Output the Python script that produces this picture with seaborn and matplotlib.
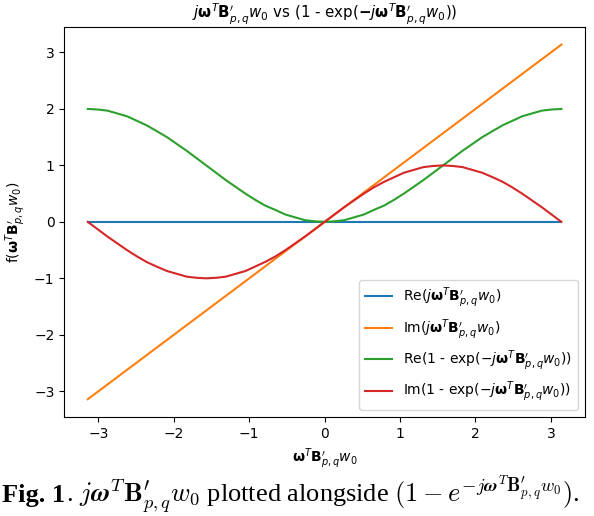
import seaborn as sns
import matplotlib.pyplot as plt

# valores (eixo x de -pi a pi)
x_vals = [-3.14, -3.01, -2.88, -2.75, -2.62, -2.49, -2.36, -2.23, -2.09, -1.96, -1.83, -1.70, -1.57,
          -1.44, -1.31, -1.18, -1.05, -0.92, -0.79, -0.65, -0.52, -0.39, -0.26, -0.13, 0.0,
          0.13, 0.26, 0.39, 0.52, 0.65, 0.79, 0.92, 1.05, 1.18, 1.31, 1.44, 1.57,
          1.70, 1.83, 1.96, 2.09, 2.23, 2.36, 2.49, 2.62, 2.75, 2.88, 3.01, 3.14]
re_lin = [0.0] * 49
im_lin = [-3.14, -3.01, -2.88, -2.75, -2.62, -2.49, -2.36, -2.23, -2.09, -1.96, -1.83, -1.70, -1.57,
          -1.44, -1.31, -1.18, -1.05, -0.92, -0.79, -0.65, -0.52, -0.39, -0.26, -0.13, 0.0,
          0.13, 0.26, 0.39, 0.52, 0.65, 0.79, 0.92, 1.05, 1.18, 1.31, 1.44, 1.57,
          1.70, 1.83, 1.96, 2.09, 2.23, 2.36, 2.49, 2.62, 2.75, 2.88, 3.01, 3.14]
re_exp = [2.0, 1.99, 1.97, 1.92, 1.87, 1.79, 1.71, 1.61, 1.5, 1.38, 1.26, 1.13, 1.0,
          0.87, 0.74, 0.62, 0.5, 0.39, 0.29, 0.21, 0.13, 0.08, 0.03, 0.01, 0.0,
          0.01, 0.03, 0.08, 0.13, 0.21, 0.29, 0.39, 0.5, 0.62, 0.74, 0.87, 1.0,
          1.13, 1.26, 1.38, 1.5, 1.61, 1.71, 1.79, 1.87, 1.92, 1.97, 1.99, 2.0]
im_exp = [0.0, -0.13, -0.26, -0.38, -0.5, -0.61, -0.71, -0.79, -0.87, -0.92, -0.97, -0.99, -1.0,
          -0.99, -0.97, -0.92, -0.87, -0.79, -0.71, -0.61, -0.5, -0.38, -0.26, -0.13, 0.0,
          0.13, 0.26, 0.38, 0.5, 0.61, 0.71, 0.79, 0.87, 0.92, 0.97, 0.99, 1.0,
          0.99, 0.97, 0.92, 0.87, 0.79, 0.71, 0.61, 0.5, 0.38, 0.26, 0.13, 0.0]

termo = r"j\mathbf{\omega}^T\mathbf{B}^{\prime}_{p,q}w_0"
labels = [r"Re($" + termo + r"$)",
          r"Im($" + termo + r"$)",
          r"Re(1 - exp($-" + termo + r"$))",
          r"Im(1 - exp($-" + termo + r"$))"]
cores = ['#1f77b4', '#ff7f0e', '#2ca02c', '#d62728']

fig, ax = plt.subplots(figsize=(5.94, 5.16), dpi=100)
fig.subplots_adjust(left=0.108, right=0.985, top=0.948, bottom=0.192)

for serie, lab, cor in zip([re_lin, im_lin, re_exp, im_exp], labels, cores):
    sns.lineplot(x=x_vals, y=serie, label=lab, color=cor, ax=ax)

ax.set_title(r"$" + termo + r"$ vs (1 - exp($\mathbf{-}" + termo + r"$))", fontsize=10.8)
ax.set_xlabel(r"$\mathbf{\omega}^T\mathbf{B}^{\prime}_{p,q}w_0$")
ax.set_ylabel(r"f($\mathbf{\omega}^T\mathbf{B}^{\prime}_{p,q}w_0$)")
ax.legend(loc='lower right')

# legenda da figura (estilo artigo)
t1 = fig.text(0.004, 0.027, "Fig. 1", fontsize=19, fontweight='bold',
              family='Liberation Serif', va='baseline')
renderer = fig.canvas.get_renderer()
bb = t1.get_window_extent(renderer=renderer)
x2 = bb.x1 / fig.bbox.width
fig.text(x2, 0.027, r". $j\mathbfit{\omega}^T\mathbf{B}^{\prime}_{p,q}w_0$ plotted alongside "
         r"$(1 - e^{-j\mathbfit{\omega}^T\mathbf{B}^{\prime}_{p,q}w_0})$.",
         fontsize=19, family='Liberation Serif', math_fontfamily='cm', va='baseline')

plt.savefig('out.png')
